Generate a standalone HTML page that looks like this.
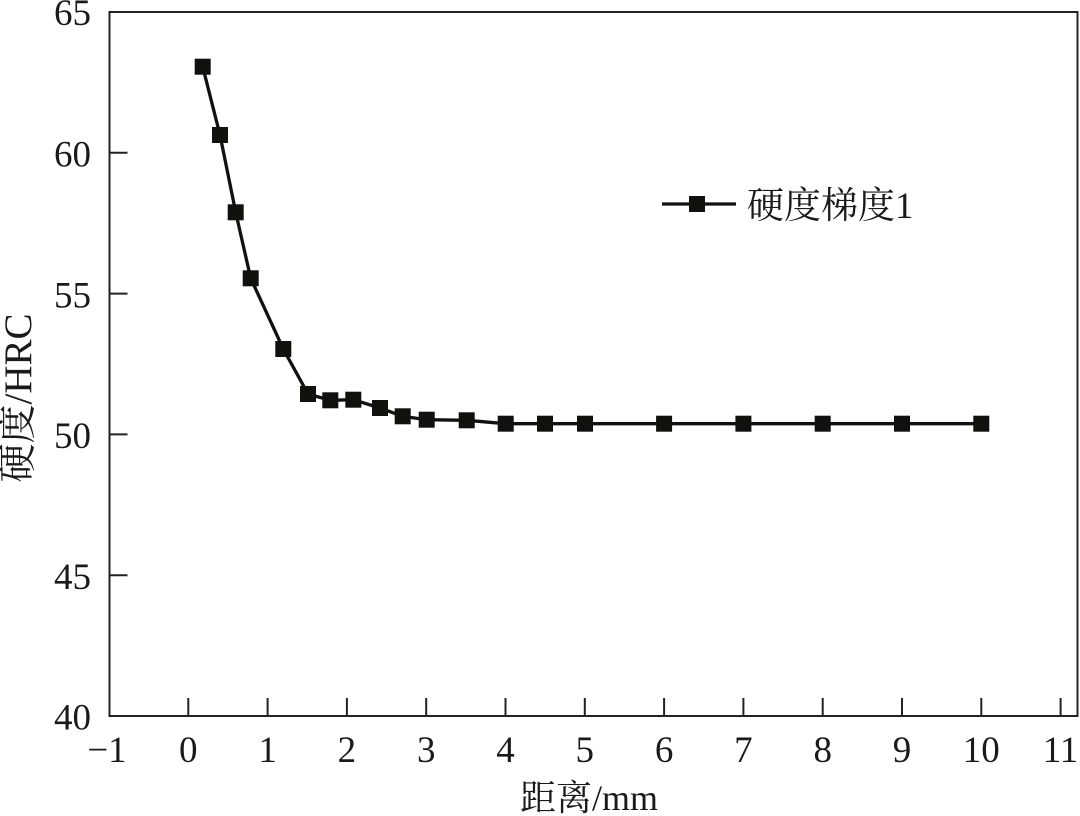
<!DOCTYPE html>
<html>
<head>
<meta charset="utf-8">
<style>
html,body{margin:0;padding:0;background:#fff;}
svg{display:block;}
text{font-family:"Liberation Serif","Noto Serif CJK SC","Noto Sans CJK SC",serif;fill:#1a1a1a;}
</style>
</head>
<body>
<svg width="1080" height="816" viewBox="0 0 1080 816" xmlns="http://www.w3.org/2000/svg">
  <rect x="0" y="0" width="1080" height="816" fill="#fff"/>
  <!-- frame -->
  <rect x="109.5" y="12" width="968" height="704" fill="none" stroke="#222" stroke-width="2"/>
  <!-- y ticks -->
  <g stroke="#222" stroke-width="2">
    <line x1="109.5" y1="152.8" x2="127.5" y2="152.8"/>
    <line x1="109.5" y1="293.6" x2="127.5" y2="293.6"/>
    <line x1="109.5" y1="434.4" x2="127.5" y2="434.4"/>
    <line x1="109.5" y1="575.2" x2="127.5" y2="575.2"/>
    <!-- x ticks -->
    <line x1="188.3" y1="716" x2="188.3" y2="698"/>
    <line x1="267.6" y1="716" x2="267.6" y2="698"/>
    <line x1="346.9" y1="716" x2="346.9" y2="698"/>
    <line x1="426.2" y1="716" x2="426.2" y2="698"/>
    <line x1="505.5" y1="716" x2="505.5" y2="698"/>
    <line x1="584.8" y1="716" x2="584.8" y2="698"/>
    <line x1="664.1" y1="716" x2="664.1" y2="698"/>
    <line x1="743.4" y1="716" x2="743.4" y2="698"/>
    <line x1="822.7" y1="716" x2="822.7" y2="698"/>
    <line x1="902.0" y1="716" x2="902.0" y2="698"/>
    <line x1="981.3" y1="716" x2="981.3" y2="698"/>
    <line x1="1060.6" y1="716" x2="1060.6" y2="698"/>
  </g>
  <!-- y tick labels -->
  <g font-size="37" text-anchor="end">
    <text x="91" y="25">65</text>
    <text x="91" y="166.5">60</text>
    <text x="91" y="307.3">55</text>
    <text x="91" y="448.1">50</text>
    <text x="91" y="588.9">45</text>
    <text x="91" y="729.7">40</text>
  </g>
  <!-- x tick labels -->
  <g font-size="37" text-anchor="middle">
    <text x="107" y="762">−1</text>
    <text x="188.3" y="762">0</text>
    <text x="267.6" y="762">1</text>
    <text x="346.9" y="762">2</text>
    <text x="426.2" y="762">3</text>
    <text x="505.5" y="762">4</text>
    <text x="584.8" y="762">5</text>
    <text x="664.1" y="762">6</text>
    <text x="743.4" y="762">7</text>
    <text x="822.7" y="762">8</text>
    <text x="902.0" y="762">9</text>
    <text x="981.3" y="762">10</text>
    <text x="1060.6" y="762">11</text>
  </g>
  <!-- axis titles -->
  <text x="589" y="810" font-size="36" text-anchor="middle">距离/mm</text>
  <text transform="translate(31,398) rotate(-90)" font-size="39" text-anchor="middle">硬度/HRC</text>
  <!-- series -->
  <polyline fill="none" stroke="#111210" stroke-width="3.3" stroke-linejoin="round"
    points="202.7,66.7 220,135 235.7,212.3 250.7,278.3 283.3,349 308,394 330.3,400.3 353.3,399.7 380,408 402.7,416.3 426.7,419.7 466.7,420.3 505.7,423.7 545,423.7 585,423.7 664.1,423.7 743.4,423.7 822.7,423.7 902,423.7 981.3,423.7"/>
  <g fill="#10110d">
    <rect x="194.7" y="58.7" width="16" height="16"/>
    <rect x="212" y="127" width="16" height="16"/>
    <rect x="227.7" y="204.3" width="16" height="16"/>
    <rect x="242.7" y="270.3" width="16" height="16"/>
    <rect x="275.3" y="341" width="16" height="16"/>
    <rect x="300" y="386" width="16" height="16"/>
    <rect x="322.3" y="392.3" width="16" height="16"/>
    <rect x="345.3" y="391.7" width="16" height="16"/>
    <rect x="372" y="400" width="16" height="16"/>
    <rect x="394.7" y="408.3" width="16" height="16"/>
    <rect x="418.7" y="411.7" width="16" height="16"/>
    <rect x="458.7" y="412.3" width="16" height="16"/>
    <rect x="497.7" y="415.7" width="16" height="16"/>
    <rect x="537" y="415.7" width="16" height="16"/>
    <rect x="577" y="415.7" width="16" height="16"/>
    <rect x="656.1" y="415.7" width="16" height="16"/>
    <rect x="735.4" y="415.7" width="16" height="16"/>
    <rect x="814.7" y="415.7" width="16" height="16"/>
    <rect x="894" y="415.7" width="16" height="16"/>
    <rect x="973.3" y="415.7" width="16" height="16"/>
  </g>
  <!-- legend -->
  <line x1="662" y1="204" x2="736" y2="204" stroke="#111210" stroke-width="3.3"/>
  <rect x="689" y="196" width="16" height="16" fill="#10110d"/>
  <text x="747" y="218" font-size="37">硬度梯度1</text>
</svg>
</body>
</html>
